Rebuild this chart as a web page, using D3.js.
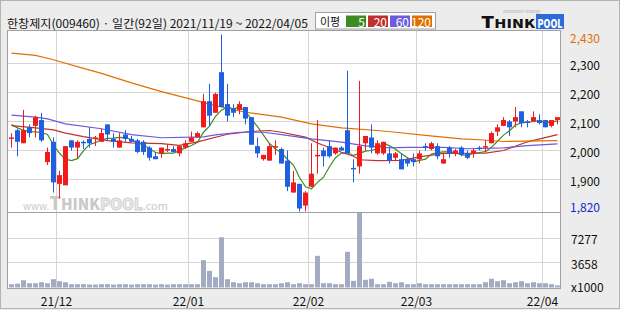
<!DOCTYPE html>
<html>
<head>
<meta charset="utf-8">
<script src="https://cdn.jsdelivr.net/npm/d3@7"></script>
<style>
  html, body { margin: 0; padding: 0; background: #fff; }
  svg { display: block; }
  text { font-family: "Noto Sans CJK KR", "Noto Sans", sans-serif; }
</style>
</head>
<body>
<svg id="chart" width="620" height="310"></svg>
<script>
// 한창제지 일봉 차트 (92일)

const titleText = "한창제지(009460) · 일간(92일) 2021/11/19 ~ 2022/04/05";
const monthLabels = ["21/12", "22/01", "22/02", "22/03", "22/04"];
const monthStartIdx = [8, 30, 50, 68, 89];
const priceTicks = [1900, 2000, 2100, 2200, 2300];
const priceHiLabel = "2,430";
const priceLoLabel = "1,820";
const volTicks = [3658, 7277];
const volMax = 10916;
const maNames = ["5", "20", "60", "120"];

const open = [2040,2070,2025,2080,2085,2105,1960,2030,1885,1880,
  2035,2010,2030,2040,2040,2030,2090,2040,2010,2055,
  2040,2035,2030,2010,1980,1990,2000,2005,1990,2010,
  2030,2045,2080,2170,2130,2270,2160,2145,2140,2150,
  2115,2015,1970,1965,2010,2005,1965,1855,1885,1810,
  1875,1980,2000,2015,1990,2010,2070,1940,1945,2025,
  2045,1990,1990,1990,1975,1970,1970,1970,1970,2015,
  2005,2015,1955,2010,1990,2010,1990,1990,2010,2010,
  2025,2065,2085,2100,2100,2135,2100,2100,2105,2105,
  2085,2105];
const high = [2060,2075,2140,2090,2120,2130,2010,2045,1930,2015,
  2035,2035,2035,2080,2050,2075,2090,2060,2060,2070,
  2050,2040,2035,2015,1995,2010,2020,2015,2015,2035,
  2065,2065,2195,2230,2200,2400,2230,2160,2170,2150,
  2115,2045,1985,2025,2035,2010,2000,1930,1885,1860,
  2025,2105,2010,2035,2010,2015,2275,1970,2240,2050,
  2090,2035,2030,2010,1995,1990,1975,1990,2000,2025,
  2030,2025,1990,2015,2005,2015,2000,2005,2015,2035,
  2065,2090,2115,2105,2150,2135,2105,2135,2125,2105,
  2105,2115];
const low = [2010,1980,2025,2045,2045,2030,1950,1855,1835,1880,
  2000,1975,2005,2010,2015,2030,2035,2010,2010,2030,
  2030,1990,1985,1965,1970,1975,1995,1995,1980,2005,
  2030,2045,2080,2085,2130,2150,2100,2115,2125,2090,
  2020,1975,1965,1965,1985,1955,1860,1855,1790,1790,
  1875,1920,1945,1975,1985,2000,1990,1890,1920,2000,
  1990,1985,1985,1955,1965,1935,1945,1945,1955,2000,
  2000,1970,1955,1975,1980,1980,1970,1975,2000,1995,
  2025,2050,2085,2050,2080,2080,2080,2100,2090,2080,
  2080,2090];
const close = [2045,2030,2070,2060,2115,2035,1995,1890,1915,2015,
  2010,2030,2025,2025,2045,2060,2055,2030,2035,2040,
  2030,1995,1995,1975,1970,2010,2005,1995,2015,2025,
  2045,2060,2170,2120,2195,2150,2120,2130,2160,2110,
  2020,1990,1985,2015,2015,1955,1875,1890,1800,1855,
  1920,1985,1980,1980,2010,2000,1990,1935,2015,2050,
  2010,2025,2030,1965,1990,1935,1955,1960,1990,2010,
  2025,1980,1970,1990,2000,1985,1975,2000,2005,2015,
  2060,2080,2105,2080,2115,2095,2095,2115,2095,2080,
  2105,2115];
// 거래량 (천주)
const volume = [480,560,1060,620,620,770,620,1210,920,770,
  480,480,480,430,430,480,480,430,480,480,
  430,480,480,480,430,480,430,480,480,480,
  480,480,3970,2430,1500,7300,1210,770,620,770,
  770,620,480,480,480,620,770,480,620,480,
  480,4610,620,620,480,480,5190,970,10900,1120,
  1265,480,480,830,620,770,480,480,620,480,
  480,480,480,480,480,480,480,480,480,770,
  1265,920,1060,620,770,920,620,770,620,620,
  480,300];

const ma5 = [2090,2078,2070,2065,2064,2062,2055,2019,1990,1970,
  1965,1972,1999,2021,2027,2037,2042,2043,2045,2044,
  2038,2026,2019,2007,1993,1989,1991,1991,1999,2010,
  2017,2028,2063,2084,2118,2139,2151,2143,2151,2134,
  2108,2082,2053,2024,2005,1992,1969,1950,1907,1875,
  1868,1890,1908,1944,1975,1991,1992,1983,1990,1998,
  2000,2007,2026,2016,2004,1989,1975,1961,1966,1970,
  1988,1993,1995,1995,1993,1985,1984,1990,1993,1996,
  2011,2032,2053,2068,2088,2095,2098,2100,2103,2096,
  2098,2102];
const ma20Idx = [0,4,7,9,12,16,20,25,28,31,36,40,43,45,49,51,55,57,58,61,65,68,72,79,82,86,91];
const ma20Val = [2086,2078,2071,2060,2048,2034,2026,2024,2018,2030,2056,2066,2069,2063,2046,2026,1994,1980,1968,1965,1966,1978,1990,1991,2000,2030,2055];
const ma60Idx = [0,4,6,9,15,20,25,32,34,38,42,45,50,55,59,63,66,72,76,82,86,91];
const ma60Val = [2122,2115,2109,2092,2075,2055,2044,2047,2054,2063,2063,2055,2040,2029,2016,2009,2011,2011,2006,2009,2017,2023];
const ma120Idx = [0,4,7,12,15,20,25,31,34,39,45,50,55,61,64,69,75,78,82,91];
const ma120Val = [2336,2328,2313,2283,2266,2233,2203,2171,2155,2132,2115,2092,2078,2069,2063,2052,2040,2037,2031,2034];

const maColors = ["#3d8c22", "#c0312b", "#6a5be0", "#e07000"];
const upColor = "#f01c1c", downColor = "#1f5fe0";
const gridColor = "#d6d6d6", frameColor = "#a0a0a0", bgGray = "#ececec";
const logoFont = "Liberation Sans, Arial, sans-serif";

const svg = d3.select("#chart");
const W = 620, H = 310;
const plot = {left: 8, right: 560, top: 31, mid: 212, bottom: 288};

// 배경
svg.append("rect").attr("width", W).attr("height", H).attr("fill", bgGray);
svg.append("rect").attr("x", 0.5).attr("y", 0.5).attr("width", W - 1).attr("height", H - 2)
  .attr("fill", "none").attr("stroke", "#b4b4b4");
svg.append("rect").attr("x", plot.left).attr("y", plot.top)
  .attr("width", plot.right - plot.left).attr("height", plot.bottom - plot.top).attr("fill", "#fff");

// scales
const idx = d3.range(open.length);
const x = d3.scaleBand().domain(idx).range([plot.left + 0.5, plot.right + 0.5])
  .paddingInner(1 / 6).paddingOuter(1 / 12);
const cx = i => x(i) + x.bandwidth() / 2;
const y = d3.scaleLinear().domain([1900, 2300]).range([179.5, 63.5]);
const yv = d3.scaleLinear().domain([0, volMax]).range([plot.bottom - 0.5, plot.mid + 0.5]);

// grid
const grid = svg.append("g");
grid.selectAll(".hg").data(priceTicks).join("line")
  .attr("x1", plot.left).attr("x2", plot.right)
  .attr("y1", d => y(d)).attr("y2", d => y(d))
  .attr("stroke", gridColor);
grid.selectAll(".vg").data(volTicks).join("line")
  .attr("x1", plot.left).attr("x2", plot.right)
  .attr("y1", d => Math.round(yv(d)) + 0.5).attr("y2", d => Math.round(yv(d)) + 0.5)
  .attr("stroke", gridColor);
grid.selectAll(".mg").data(monthStartIdx).join("line")
  .attr("x1", d => x(d) - 0.5).attr("x2", d => x(d) - 0.5)
  .attr("y1", plot.top).attr("y2", plot.bottom)
  .attr("stroke", gridColor);

// watermark
const wm = svg.append("text").attr("x", 23).attr("y", 210).attr("fill", "#c9c9c9")
  .attr("font-family", logoFont);
wm.append("tspan").attr("font-size", 10).text("www.");
wm.append("tspan").attr("font-size", 18).attr("font-weight", 900).text("T");
wm.append("tspan").attr("font-size", 15).attr("font-weight", 900).text("HINK");
wm.append("tspan").attr("font-size", 15).attr("font-weight", 900).attr("fill", "#e8e8e8")
  .attr("stroke", "#cfcfcf").attr("stroke-width", 0.8).text("POOL");
wm.append("tspan").attr("font-size", 11).text(".com");

// moving averages
const line = d3.line().x(d => cx(d[0])).y(d => y(d[1]));
const maSeries = [
  ma5.map((v, i) => [i, v]),
  ma20Idx.map((d, k) => [d, ma20Val[k]]),
  ma60Idx.map((d, k) => [d, ma60Val[k]]),
  ma120Idx.map((d, k) => [d, ma120Val[k]])
];
svg.append("g").selectAll("path").data(maSeries).join("path")
  .attr("d", line).attr("fill", "none")
  .attr("stroke", (d, k) => maColors[k]).attr("stroke-width", 1.2);

// candles
const candles = svg.append("g").selectAll("g").data(idx).join("g");
const colorOf = i => close[i] >= open[i] ? upColor : downColor;
candles.append("line")
  .attr("x1", i => cx(i)).attr("x2", i => cx(i))
  .attr("y1", i => y(high[i])).attr("y2", i => y(low[i]))
  .attr("stroke", colorOf).attr("stroke-width", 1);
candles.append("rect")
  .attr("x", i => x(i)).attr("width", x.bandwidth())
  .attr("y", i => y(Math.max(open[i], close[i])))
  .attr("height", i => Math.max(1.5, Math.abs(y(open[i]) - y(close[i]))))
  .attr("fill", colorOf);

// volume
svg.append("g").selectAll("rect").data(idx).join("rect")
  .attr("x", i => x(i)).attr("width", x.bandwidth())
  .attr("y", i => yv(volume[i])).attr("height", i => yv(0) - yv(volume[i]))
  .attr("fill", "#a2abc1");

// frames
svg.append("rect").attr("x", plot.left - 0.5).attr("y", plot.top - 0.5)
  .attr("width", plot.right - plot.left + 1).attr("height", plot.bottom - plot.top + 1)
  .attr("fill", "none").attr("stroke", frameColor);
svg.append("line").attr("x1", plot.left).attr("x2", plot.right)
  .attr("y1", plot.mid + 0.5).attr("y2", plot.mid + 0.5).attr("stroke", frameColor);
svg.append("line").attr("x1", 0).attr("x2", W)
  .attr("y1", 308.5).attr("y2", 308.5).attr("stroke", "#b4b4b4");

// right axis labels
const axisG = svg.append("g").attr("font-size", 12).attr("dominant-baseline", "central");
axisG.selectAll(".pt").data(priceTicks).join("text")
  .attr("x", 570).attr("y", d => y(d) + 0.5).attr("fill", "#111")
  .text(d3.format(","));
axisG.append("text").attr("x", 570).attr("y", 37.5).attr("fill", "#e07000").text(priceHiLabel);
axisG.append("text").attr("x", 570).attr("y", 206).attr("fill", "#1028d0").text(priceLoLabel);
axisG.selectAll(".vt").data(volTicks).join("text")
  .attr("x", 571).attr("y", d => yv(d) + 1).attr("fill", "#111").text(d => d);
axisG.append("text").attr("x", 571).attr("y", 286).attr("fill", "#111").text("x1000");

// month labels
svg.append("g").selectAll("text").data(monthStartIdx).join("text")
  .attr("x", d => x(d) - 0.5).attr("y", 300).attr("text-anchor", "middle")
  .attr("dominant-baseline", "central").attr("font-size", 12).attr("fill", "#111")
  .text((d, k) => monthLabels[k]);

// title
svg.append("text").attr("x", 7).attr("y", 23).attr("dominant-baseline", "central")
  .attr("font-size", 11.5).attr("fill", "#111")
  .attr("textLength", 301).attr("lengthAdjust", "spacingAndGlyphs").text(titleText);

// legend
const lg = svg.append("g");
lg.append("rect").attr("x", 315.5).attr("y", 12.5).attr("width", 120).attr("height", 16.5)
  .attr("fill", "#fff").attr("stroke", "#a0a0a0");
lg.append("text").attr("x", 320).attr("y", 21).attr("dominant-baseline", "central")
  .attr("font-size", 11).attr("fill", "#111").text("이평");
const boxW = 20, boxX = [346, 368, 390, 412];
lg.selectAll(".lb").data(maNames).join("rect")
  .attr("x", (d, k) => boxX[k]).attr("y", 15.5).attr("width", boxW).attr("height", 11.5)
  .attr("fill", (d, k) => maColors[k]);
lg.selectAll(".lt").data(maNames).join("text")
  .attr("x", (d, k) => boxX[k] + boxW - 1).attr("y", 21.5).attr("text-anchor", "end")
  .attr("dominant-baseline", "central").attr("font-size", 12).attr("fill", "#fff")
  .text(d => d);

// logo
const logo = svg.append("g").attr("font-family", logoFont).attr("font-weight", 900);
logo.append("rect").attr("x", 536).attr("y", 14).attr("width", 28).attr("height", 15).attr("fill", "#2f6bd8");
const lt = logo.append("text").attr("x", 481).attr("y", 27.5).attr("fill", "#111")
  .attr("textLength", 54).attr("lengthAdjust", "spacingAndGlyphs");
lt.append("tspan").attr("font-size", 16).text("T");
lt.append("tspan").attr("font-size", 12).text("HINK");
logo.append("text").attr("x", 537.5).attr("y", 27.5).attr("font-size", 12).attr("fill", "#fff")
  .attr("textLength", 25).attr("lengthAdjust", "spacingAndGlyphs").text("POOL");
logo.append("text").attr("x", 503).attr("y", 12.5).attr("font-size", 4).attr("font-weight", 400)
  .attr("fill", "#aaa").text("Investment Strategy");
</script>
</body>
</html>
